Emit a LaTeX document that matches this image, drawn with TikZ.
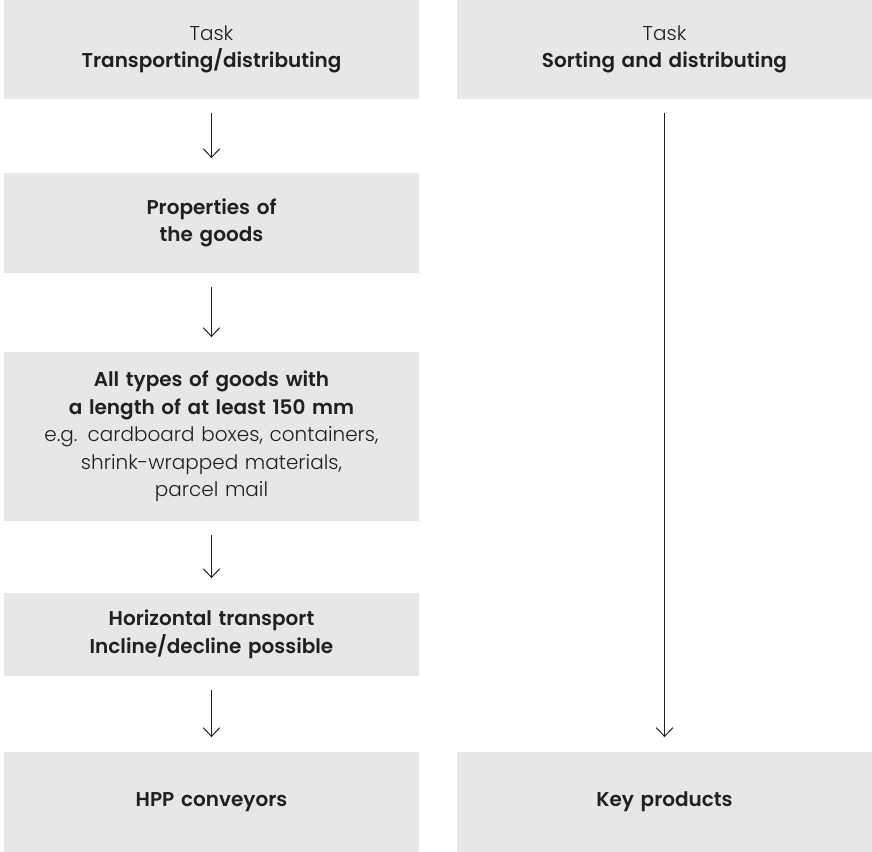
\documentclass[tikz,border=0pt]{standalone}
\usepackage{fontspec}
\IfFontExistsTF{Poppins SemiBold}
  {\setmainfont{Poppins}[BoldFont={Poppins SemiBold}]}
  {\setmainfont{Poppins}}
\IfFontExistsTF{Poppins Light}
  {\newfontfamily\lightfont{Poppins Light}}
  {\newcommand\lightfont{}}
\usetikzlibrary{arrows.meta, positioning}
\definecolor{boxgray}{HTML}{E6E7E9}
\definecolor{textgray}{HTML}{231F20}

\begin{document}
\begin{tikzpicture}[x=0.75pt, y=-0.75pt]

    % --- Styles ---
    \tikzset{
        box/.style={rectangle, fill=boxgray, minimum width=311.25pt, text width=308pt, align=center, inner sep=0pt, text=textgray, font=\fontsize{15}{20.6}\selectfont},
        arrow/.style={line width=0.75pt, textgray, -{Straight Barb[length=6.5pt, width=12.5pt]}, shorten <=10.5pt, shorten >=11pt}
    }

    \useasboundingbox (0,0) rectangle (872,852);

    % --- Left column ---
    \node (task1) [box, minimum height=74.25pt] at (211.5,49.5) {{\lightfont Task}\\ \textbf{Transporting/distributing}};
    \node (props) [box, minimum height=75pt] at (211.5,223) {\textbf{Properties of}\\ \textbf{the goods}};
    \node (goods) [box, minimum height=126.75pt] at (211.5,436.5) {\textbf{All types of goods with}\\ \textbf{a length of at least 150 mm}\\ {\lightfont e.g. cardboard boxes, containers,}\\ {\lightfont shrink-wrapped materials,}\\ {\lightfont parcel mail}};
    \node (transport) [box, minimum height=62.25pt] at (211.5,634.5) {\textbf{Horizontal transport}\\ \textbf{Incline/decline possible}};
    \node (hpp) [box, minimum height=75pt] at (211.5,802) {\textbf{HPP conveyors}};

    % --- Right column ---
    \node (task2) [box, minimum height=74.25pt] at (664.5,49.5) {{\lightfont Task}\\ \textbf{Sorting and distributing}};
    \node (keyprod) [box, minimum height=75pt] at (664.5,802) {\textbf{Key products}};

    % --- Connections ---
    \draw [arrow] (task1) -- (props);
    \draw [arrow] (props) -- (goods);
    \draw [arrow] (goods) -- (transport);
    \draw [arrow] (transport) -- (hpp);
    \draw [arrow] (task2) -- (keyprod);

\end{tikzpicture}
\end{document}
